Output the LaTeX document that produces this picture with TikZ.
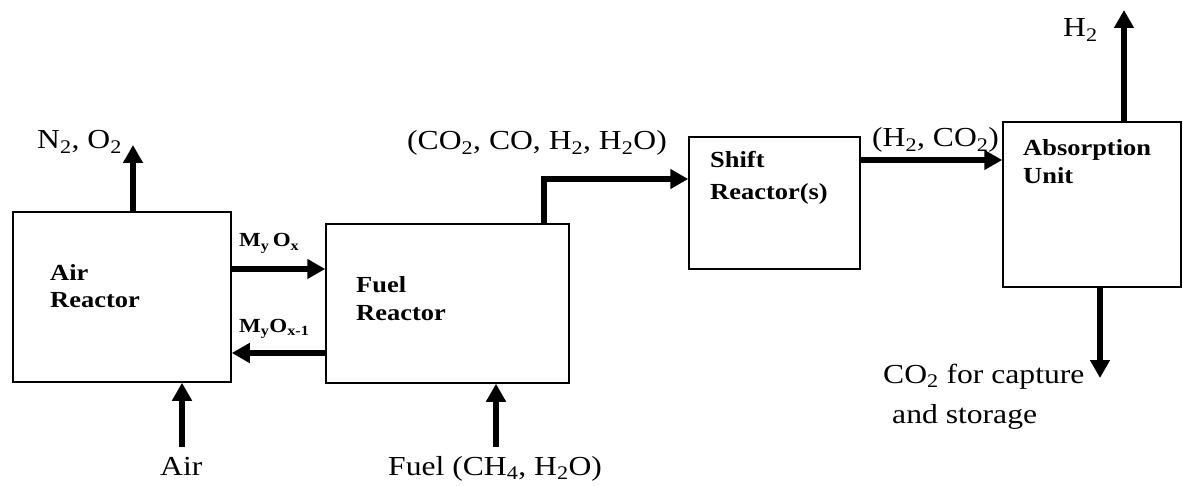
\documentclass[tikz,border=0pt]{standalone}
\usepackage{fontspec}
\setmainfont{Liberation Serif}[FakeStretch=1.15]
\usetikzlibrary{arrows.meta, positioning}
\tikzset{
  %% Process unit box
  unitbox/.style={
    rectangle, draw=black, line width=1.5pt,
    inner sep=0pt
  },
  %% Thick stream arrow
  flow/.style={-{Triangle[length=18pt,width=19pt]},
               draw=black, line width=6pt},
  %% Bold name inside a unit
  unitname/.style={
    font=\fontsize{23}{28}\selectfont\bfseries,
    align=left, anchor=base west, inner sep=0pt
  },
  %% Stream label
  stream/.style={
    font=\fontsize{27.5}{40}\selectfont,
    align=left, anchor=base west, inner sep=0pt
  },
  %% Oxygen carrier label
  carrier/.style={
    font=\fontsize{20}{24}\selectfont\bfseries,
    anchor=base west, inner sep=0pt
  },
}

\begin{document}
\begin{tikzpicture}[x=1pt, y=-1pt]
  \useasboundingbox (0,0) rectangle (1183,486);

  %% Units
  \node[unitbox, minimum width=218pt, minimum height=170pt] (air)    at (122,297)    {};
  \node[unitbox, minimum width=243pt, minimum height=159pt] (fuel)   at (447.5,303.5) {};
  \node[unitbox, minimum width=171pt, minimum height=132pt] (shift)  at (774.5,203)  {};
  \node[unitbox, minimum width=178pt, minimum height=165pt] (absorb) at (1092,204.5)  {};

  %% Unit names (anchored at the last line)
  \node[unitname] (airname)    at (50,308)   {Air\\Reactor};
  \node[unitname] (fuelname)   at (356,320)  {Fuel\\Reactor};
  \node[unitname] (shiftname)  at (710,200)  {Shift\\[4pt]Reactor(s)};
  \node[unitname] (absorbname) at (1023,184) {Absorption\\Unit};

  %% Free ends of the streams
  \coordinate (n2end)   at (133,145);
  \coordinate (airin)   at (182,447);
  \coordinate (fuelin)  at (496,447);
  \coordinate (h2end)   at (1124,10);
  \coordinate (co2end)  at (1100,378);

  %% Streams
  \draw[flow] (n2end |- air.north) -- (n2end);
  \draw[flow] (airin) -- (airin |- air.south);
  \draw[flow] ([yshift=28pt]air.east) -- ([yshift=28pt]air.east -| fuel.west);
  \draw[flow] ([yshift=-56pt]air.east -| fuel.west) -- ([yshift=-56pt]air.east);
  \draw[flow] (fuelin) -- (fuelin |- fuel.south);
  \draw[flow] ([xshift=96.5pt]fuel.north) |- ([yshift=24pt]shift.west);
  \draw[flow] ([yshift=43pt]shift.east) -- ([yshift=43pt]shift.east -| absorb.west);
  \draw[flow] (h2end |- absorb.north) -- (h2end);
  \draw[flow] (co2end |- absorb.south) -- (co2end);

  %% Stream labels
  \node[stream] (n2lbl)   at (37,149)  {N\textsubscript{2}, O\textsubscript{2}};
  \node[stream] (airlbl)  at (160,475) {Air};
  \node[stream] (fuellbl) at (388,475) {Fuel (CH\textsubscript{4}, H\textsubscript{2}O)};
  \node[stream] (synlbl)  at (407,150) {(CO\textsubscript{2}, CO, H\textsubscript{2}, H\textsubscript{2}O)};
  \node[stream] (shiftlbl) at (872,147) {(H\textsubscript{2}, CO\textsubscript{2})};
  \node[stream] (h2lbl)   at (1063,37) {H\textsubscript{2}};
  \node[stream] (co2lbl)  at (883,383) {CO\textsubscript{2} for capture};
  \node[stream] (storlbl) at (892,423) {and storage};

  %% Oxygen carrier
  \node[carrier] (oxlbl)  at (239,247) {M\textsubscript{y}\,O\textsubscript{x}};
  \node[carrier] (redlbl) at (239,332) {M\textsubscript{y}O\textsubscript{x-1}};

\end{tikzpicture}
\end{document}
